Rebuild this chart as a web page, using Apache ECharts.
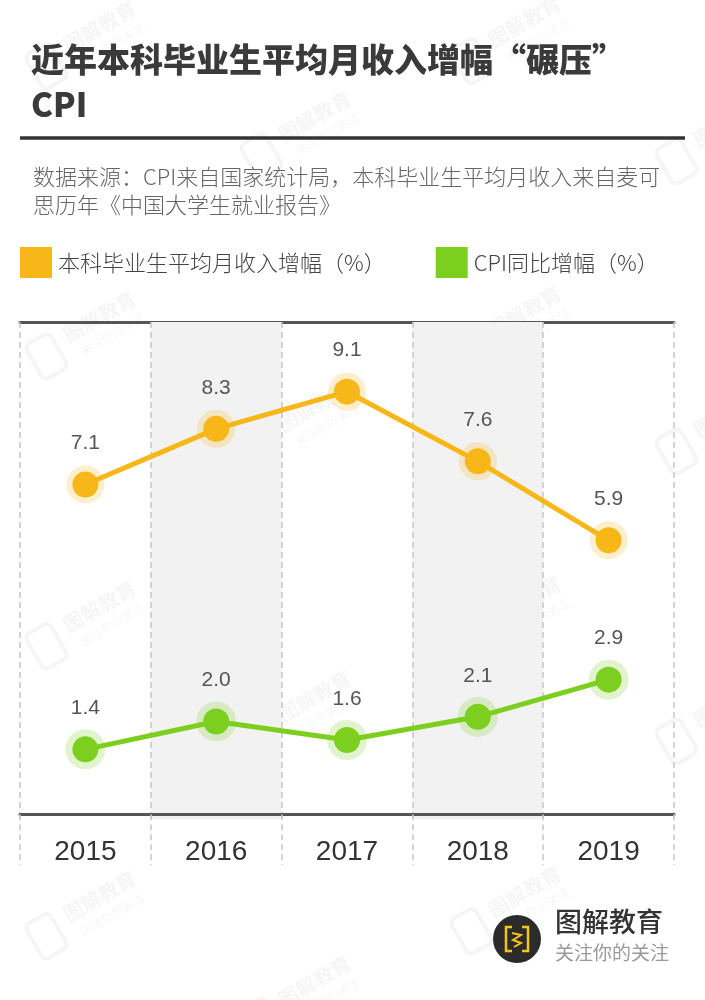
<!DOCTYPE html>
<html>
<head>
<meta charset="utf-8">
<style>
  html, body { margin: 0; padding: 0; background: #fff; }
  #chart { width: 705px; height: 1000px; }
</style>
<script src="https://cdn.jsdelivr.net/npm/echarts@6/dist/echarts.min.js"></script>
</head>
<body>
<div id="chart"></div>
<script>
const years = ["2015", "2016", "2017", "2018", "2019"];
const incomeGrowth = [7.1, 8.3, 9.1, 7.6, 5.9];
const cpiGrowth = [1.4, 2.0, 1.6, 2.1, 2.9];

const incomeName = "本科毕业生平均月收入增幅（%）";
const cpiName = "CPI同比增幅（%）";

const ORANGE = "#f7b718";
const GREEN = "#7ccf1e";
const FONT = "'Noto Sans CJK SC', 'Noto Sans', sans-serif";
const NUM_FONT = "'Liberation Sans', Arial, sans-serif";

// faint watermark spots (decoration only)
const marks = [
  [70, 55], [495, 50], [285, 145], [700, 150],
  [70, 345], [495, 340], [285, 435], [700, 440],
  [70, 635], [495, 630], [285, 725], [700, 730],
  [70, 925], [495, 920], [285, 1010]
];

function watermark(x, y) {
  const c = "rgba(0,0,0,0.04)";
  return {
    type: "group",
    x: x, y: y,
    rotation: Math.PI / 6,
    silent: true,
    z: 0,
    children: [
      { type: "rect", shape: { x: -40, y: -22, width: 28, height: 40, r: 6 },
        style: { fill: null, stroke: c, lineWidth: 4 } },
      { type: "text", style: { x: 0, y: -20, text: "图解教育", font: "bold 20px " + FONT, fill: c } },
      { type: "text", style: { x: 6, y: 6, text: "关注你的关注", font: "12px " + FONT, fill: c } }
    ]
  };
}

function labelOpt() {
  return {
    show: true,
    position: "inside",
    offset: [0, -41],
    fontSize: 21,
    fontFamily: NUM_FONT,
    color: "#555",
    formatter: p => p.value.toFixed(1)
  };
}

const chart = echarts.init(document.getElementById("chart"));

chart.setOption({
  backgroundColor: "#fff",
  title: [
    {
      text: "近年本科毕业生平均月收入增幅“碾压”\nCPI",
      left: 26, top: 32,
      textStyle: { fontSize: 33, fontWeight: 900, color: "#3a3a3a", lineHeight: 45, fontFamily: FONT }
    },
    {
      text: "数据来源：CPI来自国家统计局，本科毕业生平均月收入来自麦可\n思历年《中国大学生就业报告》",
      left: 28, top: 158,
      textStyle: { fontSize: 22, fontWeight: 300, color: "#666", lineHeight: 28, fontFamily: FONT }
    }
  ],
  legend: {
    data: [incomeName, cpiName],
    left: 20, top: 247,
    padding: 0,
    icon: "rect",
    itemWidth: 32, itemHeight: 31,
    itemGap: 50,
    textStyle: { fontSize: 22, fontWeight: 300, color: "#444", fontFamily: FONT, padding: [0, 0, 0, 1] },
    selectedMode: false
  },
  grid: { left: 20, right: 31, top: 322, bottom: 181 },
  xAxis: [
    {
      type: "category",
      data: years,
      position: "bottom",
      boundaryGap: true,
      axisLine: { lineStyle: { color: "#555", width: 3 } },
      axisTick: { show: true, length: 51, lineStyle: { color: "#c6c6c6", width: 1.5, type: [6, 4] } },
      axisLabel: { fontSize: 28, color: "#333", margin: 19, fontFamily: NUM_FONT },
      splitLine: { show: true, lineStyle: { color: "#c6c6c6", width: 1.5, type: [6, 4] } },
      splitArea: { show: true, areaStyle: { color: ["rgba(255,255,255,0)", "#f2f2f2"] } },
      z: 1
    },
    {
      type: "category",
      data: years,
      position: "top",
      axisLine: { lineStyle: { color: "#555", width: 3 } },
      axisTick: { show: false },
      axisLabel: { show: false }
    }
  ],
  yAxis: { type: "value", min: -0.1, max: 10.6, show: false },
  series: [
    {
      name: incomeName + "-halo",
      type: "scatter",
      data: incomeGrowth,
      symbolSize: 38,
      itemStyle: { color: "rgba(247,183,24,0.28)" },
      silent: true,
      z: 2
    },
    {
      name: cpiName + "-halo",
      type: "scatter",
      data: cpiGrowth,
      symbolSize: 40,
      itemStyle: { color: "rgba(124,207,30,0.28)" },
      silent: true,
      z: 2
    },
    {
      name: incomeName,
      type: "line",
      data: incomeGrowth,
      symbol: "circle",
      symbolSize: 26,
      lineStyle: { color: ORANGE, width: 5 },
      itemStyle: { color: ORANGE },
      label: labelOpt(),
      z: 3
    },
    {
      name: cpiName,
      type: "line",
      data: cpiGrowth,
      symbol: "circle",
      symbolSize: 26,
      lineStyle: { color: GREEN, width: 5 },
      itemStyle: { color: GREEN },
      label: labelOpt(),
      z: 3
    }
  ],
  graphic: [
    { type: "line", shape: { x1: 20, y1: 138, x2: 685, y2: 138 }, style: { stroke: "#333", lineWidth: 3.5 }, z: 5 },
    ...marks.map(m => watermark(m[0], m[1])),
    {
      type: "group", left: 493, top: 915, z: 10,
      children: [
        { type: "circle", shape: { cx: 24, cy: 25, r: 24 }, style: { fill: "#2b2b2b" } },
        { type: "polyline", shape: { points: [[19, 13], [13, 13], [13, 37], [19, 37]] },
          style: { stroke: "#f5c518", lineWidth: 2.5, fill: null } },
        { type: "polyline", shape: { points: [[29, 13], [35, 13], [35, 37], [29, 37]] },
          style: { stroke: "#f5c518", lineWidth: 2.5, fill: null } },
        { type: "polyline", shape: { points: [[19, 19], [28, 21], [20, 26], [28, 29], [21, 33]] },
          style: { stroke: "#f5c518", lineWidth: 2, fill: null } }
      ]
    },
    { type: "text", left: 555, top: 908, z: 10,
      style: { text: "图解教育", font: "500 27px " + FONT, fill: "#333" } },
    { type: "text", left: 555, top: 943, z: 10,
      style: { text: "关注你的关注", font: "19px " + FONT, fill: "#9a9a9a" } }
  ]
});
</script>
</body>
</html>
